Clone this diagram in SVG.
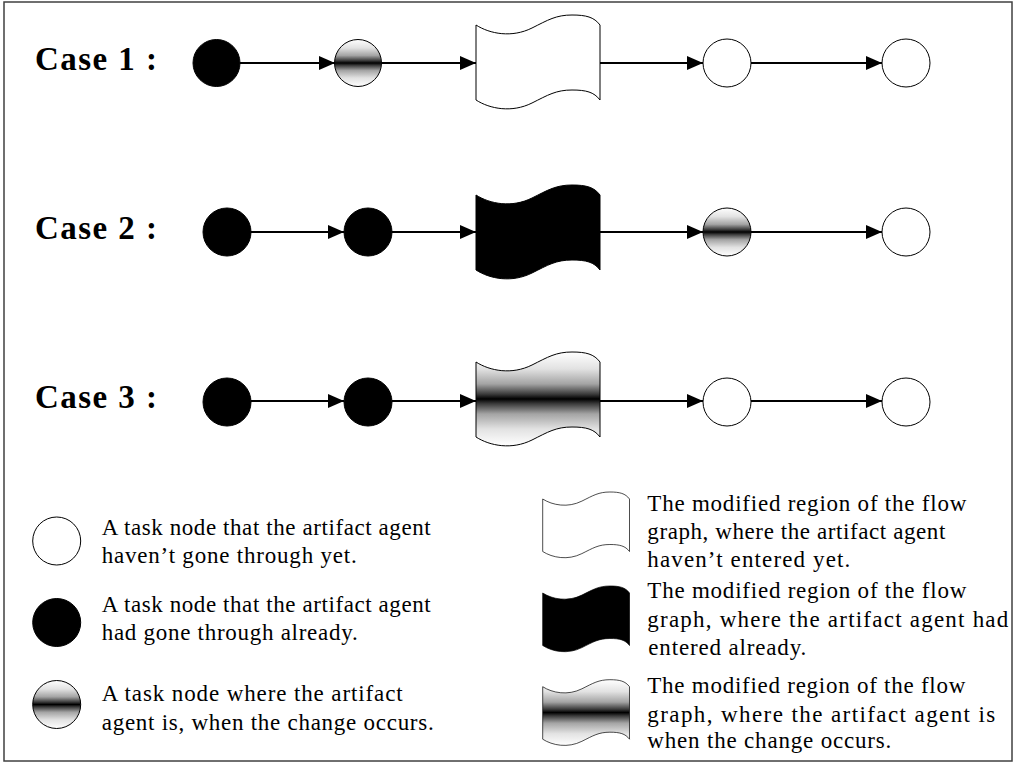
<svg xmlns="http://www.w3.org/2000/svg" width="1016" height="764" viewBox="0 0 1016 764">
<defs>
<style>
.frame{fill:#fff;stroke:#404040;stroke-width:1.5}
.case{font-family:"Liberation Serif","Times New Roman",serif;font-weight:bold;font-size:33px;fill:#000}
.lbl{font-family:"Liberation Serif","Times New Roman",serif;font-size:23px;fill:#000}
.white{fill:#fff;stroke:#000;stroke-width:1}
.black{fill:#000;stroke:#000;stroke-width:1}
.grad{fill:url(#band);stroke:#000;stroke-width:1}
.ns{vector-effect:non-scaling-stroke}
.edge{stroke:#000;stroke-width:2;fill:none;marker-end:url(#arrow)}
</style>
<linearGradient id="band" x1="0" y1="0" x2="0" y2="1">
<stop offset="0" stop-color="#ffffff"/>
<stop offset="0.18" stop-color="#e2e2e2"/>
<stop offset="0.34" stop-color="#a4a4a4"/>
<stop offset="0.45" stop-color="#3a3a3a"/>
<stop offset="0.5" stop-color="#000000"/>
<stop offset="0.55" stop-color="#3a3a3a"/>
<stop offset="0.66" stop-color="#a4a4a4"/>
<stop offset="0.82" stop-color="#e2e2e2"/>
<stop offset="1" stop-color="#ffffff"/>
</linearGradient>
<marker id="arrow" markerUnits="userSpaceOnUse" markerWidth="17" markerHeight="14" refX="16" refY="7" orient="auto">
<path d="M0,0 L16,7 L0,14 Z" fill="#000"/>
</marker>
<path id="tape" d="M0,0 C14,9 36,13 56,3 C72,-5 80,-10 96,-10 C110,-10 118,-8 124,0 L124,75 C118,67 110,65 96,65 C80,65 72,70 56,78 C36,88 14,84 0,75 Z"/>
</defs>

<rect class="frame" x="4" y="2" width="1008" height="759"/>

<g id="labels">
<text class="case" x="35" y="70" textLength="122" lengthAdjust="spacing">Case 1 :</text>
<text class="case" x="35" y="239" textLength="122" lengthAdjust="spacing">Case 2 :</text>
<text class="case" x="35" y="408" textLength="122" lengthAdjust="spacing">Case 3 :</text>
</g>

<g id="connectors">
<path class="edge" d="M240,63 H335"/>
<path class="edge" d="M381.5,63 H476"/>
<path class="edge" d="M600,63 H703"/>
<path class="edge" d="M751,63 H882"/>
<path class="edge" d="M251,232 H344"/>
<path class="edge" d="M392,232 H476"/>
<path class="edge" d="M600,232 H703"/>
<path class="edge" d="M751,232 H882"/>
<path class="edge" d="M251,401 H344"/>
<path class="edge" d="M392,401 H476"/>
<path class="edge" d="M600,401 H703"/>
<path class="edge" d="M751,401 H882"/>
</g>

<g id="case1-n1"><circle class="black" cx="216.5" cy="63" r="23.5"/></g>
<g id="case1-n2"><circle class="grad" cx="358" cy="63" r="23.5"/></g>
<g id="case1-region"><use href="#tape" class="white" transform="translate(476,25)"/></g>
<g id="case1-n3"><circle class="white" cx="727" cy="63" r="24"/></g>
<g id="case1-n4"><circle class="white" cx="906" cy="63" r="24"/></g>

<g id="case2-n1"><circle class="black" cx="227" cy="232" r="24"/></g>
<g id="case2-n2"><circle class="black" cx="368" cy="232" r="24"/></g>
<g id="case2-region"><use href="#tape" class="black" transform="translate(476,195)"/></g>
<g id="case2-n3"><circle class="grad" cx="727" cy="232" r="24"/></g>
<g id="case2-n4"><circle class="white" cx="906" cy="232" r="24"/></g>

<g id="case3-n1"><circle class="black" cx="227" cy="402" r="24"/></g>
<g id="case3-n2"><circle class="black" cx="368" cy="402" r="24"/></g>
<g id="case3-region"><use href="#tape" class="grad" transform="translate(476,362)"/></g>
<g id="case3-n3"><circle class="white" cx="727" cy="402" r="24"/></g>
<g id="case3-n4"><circle class="white" cx="906" cy="402" r="24"/></g>

<g id="legend-white-node">
<circle class="white" cx="56.7" cy="541" r="24"/>
<text class="lbl" x="101.7" y="535" textLength="329" lengthAdjust="spacing">A task node that the artifact agent</text>
<text class="lbl" x="101.7" y="563" textLength="255" lengthAdjust="spacing">haven’t gone through yet.</text>
</g>
<g id="legend-black-node">
<circle class="black" cx="56.7" cy="622.5" r="24"/>
<text class="lbl" x="101.7" y="612" textLength="329" lengthAdjust="spacing">A task node that the artifact agent</text>
<text class="lbl" x="101.7" y="640" textLength="256" lengthAdjust="spacing">had gone through already.</text>
</g>
<g id="legend-grad-node">
<circle class="grad" cx="56.7" cy="704.5" r="24"/>
<text class="lbl" x="101.7" y="701" textLength="301" lengthAdjust="spacing">A task node where the artifact</text>
<text class="lbl" x="101.7" y="730" textLength="332" lengthAdjust="spacing">agent is, when the change occurs.</text>
</g>

<g id="legend-white-region">
<use href="#tape" class="white ns" transform="translate(542.7,499) scale(0.7)"/>
<text class="lbl" x="647.3" y="511" textLength="319" lengthAdjust="spacing">The modified region of the flow</text>
<text class="lbl" x="647.3" y="539" textLength="298" lengthAdjust="spacing">graph, where the artifact agent</text>
<text class="lbl" x="647.3" y="567" textLength="203" lengthAdjust="spacing">haven’t entered yet.</text>
</g>
<g id="legend-black-region">
<use href="#tape" class="black ns" transform="translate(542.7,593) scale(0.7)"/>
<text class="lbl" x="647.3" y="598" textLength="319" lengthAdjust="spacing">The modified region of the flow</text>
<text class="lbl" x="647.3" y="627" textLength="361" lengthAdjust="spacing">graph, where the artifact agent had</text>
<text class="lbl" x="648.3" y="655" textLength="158" lengthAdjust="spacing">entered already.</text>
</g>
<g id="legend-grad-region">
<use href="#tape" class="grad ns" transform="translate(542.7,686.7) scale(0.7)"/>
<text class="lbl" x="647.3" y="693" textLength="318" lengthAdjust="spacing">The modified region of the flow</text>
<text class="lbl" x="647.3" y="722" textLength="348" lengthAdjust="spacing">graph, where the artifact agent is</text>
<text class="lbl" x="647.3" y="748" textLength="244" lengthAdjust="spacing">when the change occurs.</text>
</g>
</svg>
